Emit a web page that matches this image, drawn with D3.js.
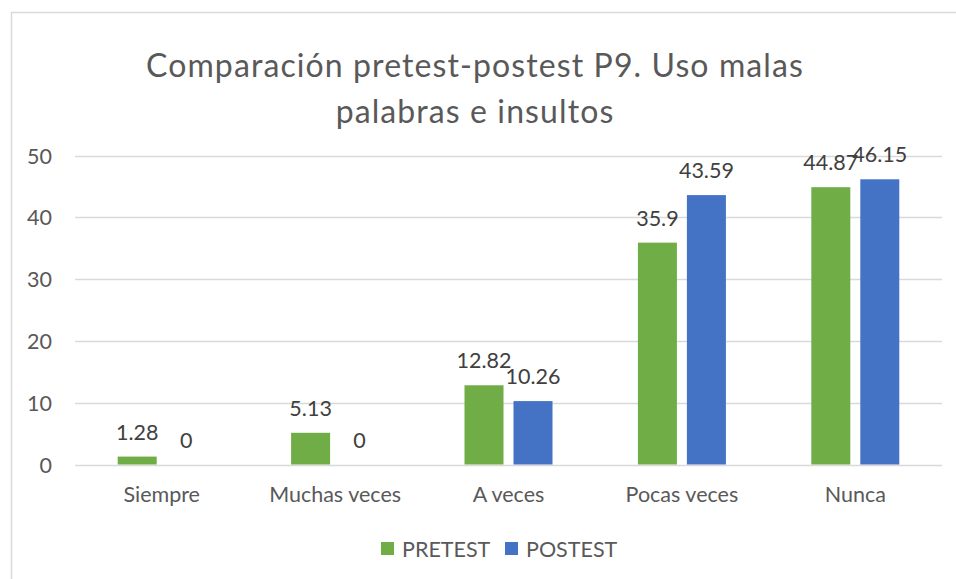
<!DOCTYPE html>
<html>
<head>
<meta charset="utf-8">
<script src="https://cdn.jsdelivr.net/npm/d3@7"></script>
<style>
  html, body { margin: 0; padding: 0; background: #fff; }
  svg { display: block; font-family: Lato, "Open Sans", sans-serif; }
</style>
</head>
<body>
<svg id="chart" width="956" height="579"></svg>
<script>
// Chart data
const titleLines = ["Comparación pretest-postest P9. Uso malas", "palabras e insultos"];
const categories = ["Siempre", "Muchas veces", "A veces", "Pocas veces", "Nunca"];
const seriesNames = ["PRETEST", "POSTEST"];
const pretest = [1.28, 5.13, 12.82, 35.9, 44.87];
const postest = [0, 0, 10.26, 43.59, 46.15];
const yTicks = [0, 10, 20, 30, 40, 50];
const colors = ["#70AD47", "#4472C4"];

const svg = d3.select("#chart");
const textColor = "#595959";
const gridColor = "#D9D9D9";
const smallFont = 21.5;

// Outer chart frame
svg.append("rect")
  .attr("x", 11.5).attr("y", 12.5)
  .attr("width", 960).attr("height", 600)
  .attr("fill", "none").attr("stroke", gridColor).attr("stroke-width", 1.5);

// Title
const title = svg.append("text")
  .attr("text-anchor", "middle")
  .attr("fill", textColor)
  .attr("font-size", 32)
  .attr("letter-spacing", 1.1);
titleLines.forEach((line, i) => {
  title.append("tspan").attr("x", 475).attr("y", 77 + i * 46).text(line);
});

// Scales
const plotLeft = 75, plotRight = 942;
const y = d3.scaleLinear().domain([0, 50]).range([464.5, 155.5]);
const x0 = d3.scaleBand().domain(categories).range([plotLeft, plotRight]).padding(0);
const x1 = d3.scaleBand().domain(seriesNames).range([-44, 44]).paddingInner(0.204).paddingOuter(0);

// Gridlines
svg.append("g").selectAll("line").data(yTicks).join("line")
  .attr("x1", plotLeft).attr("x2", plotRight)
  .attr("y1", d => Math.round(y(d)) + 0.5).attr("y2", d => Math.round(y(d)) + 0.5)
  .attr("stroke", gridColor).attr("stroke-width", 1.5);

// Y axis tick labels
const yAxis = d3.axisLeft(y).tickValues(yTicks).tickSize(0).tickPadding(0);
const yg = svg.append("g").attr("transform", `translate(52,0)`).call(yAxis);
yg.select(".domain").remove();
yg.selectAll("text")
  .attr("fill", textColor).attr("font-size", smallFont)
  .attr("font-family", "Lato, 'Open Sans', sans-serif")
  .attr("dy", "0.35em");

// X axis category labels
const xAxis = d3.axisBottom(x0).tickSize(0).tickPadding(0);
const xg = svg.append("g").call(xAxis);
xg.select(".domain").remove();
xg.selectAll("text")
  .attr("fill", textColor).attr("font-size", smallFont)
  .attr("font-family", "Lato, 'Open Sans', sans-serif")
  .attr("y", 502).attr("dy", 0);

// Bars and value labels
const rows = categories.map((c, i) => ({ cat: c, values: [pretest[i], postest[i]] }));
const groups = svg.append("g").selectAll("g").data(rows).join("g")
  .attr("transform", d => `translate(${x0(d.cat) + x0.bandwidth() / 2},0)`);

groups.selectAll("rect")
  .data(d => d.values.map((v, j) => ({ name: seriesNames[j], v, j })))
  .join("rect")
  .attr("x", d => x1(d.name))
  .attr("width", x1.bandwidth())
  .attr("y", d => y(d.v))
  .attr("height", d => y(0) - y(d.v))
  .attr("fill", d => colors[d.j]);

groups.selectAll("text.val")
  .data(d => d.values.map((v, j) => ({ name: seriesNames[j], v, j })))
  .join("text")
  .attr("class", "val")
  .attr("x", d => x1(d.name) + x1.bandwidth() / 2)
  .attr("y", d => y(d.v) - 17)
  .attr("text-anchor", "middle")
  .attr("fill", "#404040")
  .attr("font-size", smallFont)
  .text(d => d.v);

// Legend
const legend = svg.append("g");
const legendX = [381, 505];
seriesNames.forEach((name, i) => {
  legend.append("rect")
    .attr("x", legendX[i]).attr("y", 542)
    .attr("width", 13).attr("height", 13)
    .attr("fill", colors[i]);
  legend.append("text")
    .attr("x", legendX[i] + 21).attr("y", 557)
    .attr("fill", textColor).attr("font-size", smallFont)
    .text(name);
});
</script>
</body>
</html>
